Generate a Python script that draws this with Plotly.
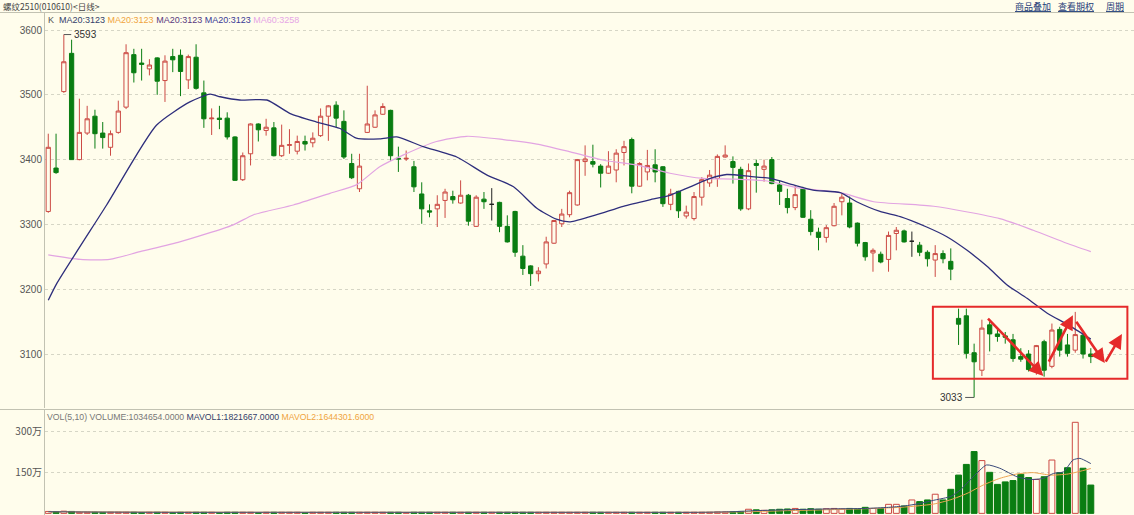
import plotly.graph_objects as go

# ---------------- data ----------------
open_ = [3320, 3387, 3505, 3564, 3400, 3441, 3467, 3441, 3419, 3442,
         3481, 3562, 3549, 3540, 3557, 3522, 3559, 3561, 3523, 3558,
         3503, 3463, 3464, 3464, 3435, 3369, 3409, 3455, 3445, 3449,
         3406, 3422, 3413, 3428, 3426, 3437, 3467, 3484, 3459, 3394,
         3355, 3442, 3450, 3470, 3476, 3402, 3401, 3389, 3347, 3321,
         3324, 3337, 3343, 3333, 3345, 3297, 3339, 3331, 3334, 3297,
         3320, 3251, 3236, 3224, 3239, 3271, 3301, 3315, 3330, 3397,
         3397, 3390, 3379, 3384, 3411, 3431, 3359, 3381, 3392, 3389,
         3331, 3351, 3313, 3309, 3342, 3364, 3371, 3404, 3397, 3385,
         3324, 3394, 3385, 3400, 3361, 3340, 3326, 3355, 3308, 3288,
         3280, 3298, 3335, 3333, 3302, 3272, 3256, 3254, 3246, 3286,
         3290, 3274, 3268, 3257, 3245, 3255, 3243, 3155, 3159, 3102,
         3075, 3145, 3131, 3128, 3122, 3096, 3100, 3075, 3119, 3081,
         3138, 3114, 3106, 3129, 3100]
high = [3440, 3440, 3593, 3585, 3494, 3483, 3477, 3458, 3445, 3491,
        3578, 3571, 3571, 3555, 3558, 3561, 3571, 3570, 3562, 3578,
        3522, 3479, 3483, 3473, 3436, 3411, 3456, 3456, 3463, 3458,
        3454, 3447, 3437, 3437, 3442, 3479, 3484, 3490, 3476, 3409,
        3409, 3514, 3476, 3487, 3477, 3420, 3414, 3398, 3365, 3331,
        3345, 3355, 3352, 3368, 3347, 3345, 3350, 3356, 3335, 3314,
        3321, 3268, 3237, 3234, 3281, 3307, 3324, 3352, 3401, 3422,
        3423, 3393, 3413, 3416, 3429, 3434, 3396, 3415, 3416, 3390,
        3355, 3352, 3329, 3350, 3373, 3384, 3408, 3422, 3405, 3389,
        3394, 3400, 3400, 3404, 3368, 3355, 3360, 3358, 3322, 3295,
        3299, 3333, 3348, 3343, 3303, 3273, 3263, 3258, 3289, 3296,
        3292, 3289, 3273, 3260, 3268, 3260, 3263, 3170, 3170, 3116,
        3153, 3150, 3140, 3134, 3131, 3109, 3106, 3114, 3122, 3147,
        3142, 3131, 3165, 3132, 3109]
low = [3318, 3378, 3503, 3400, 3399, 3438, 3417, 3417, 3406, 3440,
       3478, 3519, 3522, 3530, 3500, 3489, 3535, 3498, 3509, 3508,
       3449, 3438, 3447, 3431, 3367, 3367, 3391, 3428, 3437, 3405,
       3404, 3409, 3408, 3414, 3419, 3435, 3429, 3450, 3401, 3370,
       3350, 3441, 3449, 3469, 3398, 3381, 3398, 3350, 3301, 3311,
       3296, 3310, 3332, 3332, 3298, 3296, 3324, 3306, 3288, 3272,
       3250, 3222, 3205, 3212, 3232, 3270, 3296, 3311, 3329, 3375,
       3388, 3357, 3378, 3365, 3391, 3348, 3358, 3368, 3365, 3327,
       3322, 3310, 3309, 3306, 3329, 3358, 3358, 3403, 3363, 3321,
       3322, 3349, 3366, 3362, 3330, 3317, 3322, 3310, 3283, 3260,
       3272, 3297, 3314, 3294, 3266, 3244, 3227, 3240, 3227, 3260,
       3272, 3250, 3251, 3235, 3219, 3240, 3214, 3114, 3093, 3033,
       3066, 3104, 3119, 3116, 3088, 3088, 3073, 3068, 3065, 3078,
       3096, 3096, 3102, 3093, 3086]
close = [3419, 3380, 3551, 3400, 3442, 3463, 3440, 3434, 3440, 3475,
         3565, 3534, 3547, 3546, 3521, 3552, 3554, 3536, 3559, 3510,
         3463, 3464, 3462, 3435, 3368, 3406, 3455, 3446, 3450, 3406,
         3422, 3423, 3428, 3424, 3433, 3467, 3483, 3464, 3404, 3372,
         3390, 3455, 3469, 3482, 3406, 3401, 3402, 3358, 3324, 3319,
         3331, 3350, 3338, 3345, 3305, 3342, 3335, 3331, 3297, 3273,
         3257, 3232, 3224, 3228, 3273, 3306, 3316, 3349, 3400, 3401,
         3393, 3379, 3390, 3410, 3420, 3359, 3394, 3391, 3381, 3332,
         3347, 3321, 3319, 3343, 3369, 3376, 3405, 3407, 3388, 3324,
         3383, 3391, 3390, 3363, 3351, 3326, 3346, 3311, 3289, 3280,
         3295, 3328, 3342, 3296, 3271, 3250, 3260, 3242, 3283, 3291,
         3273, 3274, 3257, 3247, 3255, 3247, 3231, 3146, 3101, 3088,
         3140, 3131, 3127, 3126, 3093, 3092, 3076, 3113, 3075, 3137,
         3106, 3101, 3130, 3100, 3096]
black_doji = [57, 111]

# volume in 万 (10k lots)
volume = [7, 6, 8, 7, 4, 4, 4, 3, 4, 4,
          4, 4, 3, 4, 4, 4, 3, 4, 4, 4,
          4, 4, 3, 4, 4, 4, 4, 3, 4, 4,
          4, 4, 4, 3, 4, 4, 4, 4, 4, 4,
          4, 4, 4, 4, 4, 4, 3, 4, 4, 4,
          4, 4, 4, 4, 4, 4, 4, 4, 4, 4,
          4, 4, 4, 4, 4, 4, 4, 4, 4, 4,
          4, 4, 4, 4, 4, 4, 4, 4, 4, 4,
          4, 4, 4, 4, 4, 4, 5, 5, 6, 7,
          15, 13, 11, 13, 15, 16, 18, 15, 17, 15,
          17, 18, 16, 18, 16, 22, 18, 18, 33, 33,
          27, 49, 43, 49, 70, 49, 88, 140, 179, 226,
          193, 150, 106, 115, 120, 143, 131, 124, 134, 195,
          149, 167, 333, 165, 103.5]

ma20_x = [0, 1.1, 7.5, 13.9, 18.2, 20.8, 22.1, 24.6, 28.1, 31.1, 34.5, 37.5,
          39.6, 42.6, 44.8, 48.2, 52.5, 56.4, 59.8, 62.8, 65.3, 67.1, 70.5,
          73.9, 77.3, 79.9, 82.5, 85.1, 87.2, 90.2, 92.8, 95.8, 98.3, 101.8,
          103.9, 106.9, 109.5, 112.9, 115.5, 118.1, 120.7, 123.2, 125.8,
          128.4, 131.1, 134]
ma20_y = [3183, 3209, 3330, 3453, 3489, 3501, 3497, 3492, 3492, 3471, 3458, 3448,
          3433, 3432, 3435, 3420, 3404, 3376, 3358, 3325, 3308, 3304, 3315,
          3328, 3338, 3345, 3358, 3371, 3377, 3374, 3371, 3361, 3353, 3349,
          3335, 3320, 3312, 3296, 3281, 3260, 3235, 3207, 3186,
          3163, 3145, 3123]

ma60_x = [0, 4.1, 7.9, 11.8, 16.9, 23.7, 26.4, 31.5, 36.2, 39.6, 42.6, 45.6,
          49.9, 53.8, 58.5, 62.8, 67.1, 71.4, 75.6, 79.9, 84.2, 88.1, 92.4,
          96.6, 101.8, 106.1, 113.8, 122.3, 126.6, 130.9, 134]
ma60_y = [3253, 3246, 3246, 3258, 3273, 3299, 3315, 3330, 3348, 3361, 3389, 3407,
          3428, 3436, 3431, 3424, 3412, 3399, 3392, 3379, 3371, 3370, 3367,
          3356, 3349, 3335, 3328, 3309, 3291, 3271, 3258]

mavol1_x = [0, 5, 15, 30, 50, 70, 84, 88, 91, 95, 100, 105, 108, 110, 112, 114,
            116, 117.2, 118.9, 120.6, 122.3, 124.5, 126.2, 127.9, 129.2, 130.5,
            131.7, 132.6, 134]
mavol1_y = [6, 5, 4, 4, 4, 4, 4, 6, 10, 13, 16, 18, 22, 27, 36, 49,
            62, 85, 134, 177, 165, 134, 124, 128, 146, 152,
            195, 201, 182]
mavol2_x = [0, 10, 30, 60, 84, 90, 95, 100, 105, 109.5, 112, 113.8, 116, 118.1,
            120.2, 122.3, 124.5, 126.6, 128.8, 131.1, 134]
mavol2_y = [6, 5, 4, 4, 4, 6, 10, 13, 17, 22, 28, 34, 50, 73,
            104, 128, 144, 149, 140, 144, 164]

price_ticks = [3100, 3200, 3300, 3400, 3500, 3600]
vol_ticks = [150, 300]
vol_ticktext = ["150万", "300万"]

high_label_idx, high_label = 2, 3593
low_label_idx, low_label = 119, 3033

# annotation overlay (drawn on chart by user)
box_x = [113.7, 138.7]
box_y = [3062, 3173]
arrows = [  # (tail_x, tail_y, head_x, head_y)
    (120.6, 3157, 127.9, 3066),
    (128.5, 3086, 131.7, 3160),
    (132.0, 3152, 135.8, 3086),
    (135.8, 3086, 138.0, 3131),
]

# ---------------- styles ----------------
W, H = 1134, 515
ML = 45
BG = "#fffdec"
UP = "#cc4a44"
DOWN = "#0a7d12"
MA20C = "#2e2e7c"
MA60C = "#e2a4e2"
GRID = "#d6d6c6"
AXC = "#c2c2b2"
TXT = "#555555"
FONT = "Liberation Sans, Arial, sans-serif"
CJK = "Noto Sans CJK SC, sans-serif"


def px_x(px):
    return (px - ML) / (W - ML)


def px_y(py):
    return (H - py) / H


fig = go.Figure()

main_idx = [i for i in range(len(close)) if i not in black_doji]
fig.add_trace(go.Candlestick(
    x=main_idx,
    open=[open_[i] for i in main_idx], high=[high[i] for i in main_idx],
    low=[low[i] for i in main_idx], close=[close[i] for i in main_idx],
    increasing=dict(line=dict(color=UP, width=1), fillcolor=BG),
    decreasing=dict(line=dict(color=DOWN, width=1), fillcolor=DOWN),
    whiskerwidth=0, xaxis="x", yaxis="y", showlegend=False, hoverinfo="skip"))
fig.add_trace(go.Candlestick(
    x=black_doji,
    open=[open_[i] for i in black_doji], high=[high[i] for i in black_doji],
    low=[low[i] for i in black_doji], close=[close[i] for i in black_doji],
    increasing=dict(line=dict(color="#222222", width=1), fillcolor="#222222"),
    decreasing=dict(line=dict(color="#222222", width=1), fillcolor="#222222"),
    whiskerwidth=0, xaxis="x", yaxis="y", showlegend=False, hoverinfo="skip"))

fig.add_trace(go.Scatter(x=ma60_x, y=ma60_y, mode="lines",
                         line=dict(color=MA60C, width=1.2, shape="spline", smoothing=0.6),
                         xaxis="x", yaxis="y", showlegend=False, hoverinfo="skip"))
fig.add_trace(go.Scatter(x=ma20_x, y=ma20_y, mode="lines",
                         line=dict(color=MA20C, width=1.3, shape="spline", smoothing=0.6),
                         xaxis="x", yaxis="y", showlegend=False, hoverinfo="skip"))

# volume
is_up = [close[i] >= open_[i] for i in range(len(close))]
fig.add_trace(go.Bar(
    x=list(range(len(volume))), y=volume,
    marker=dict(color=[BG if u else DOWN for u in is_up],
                line=dict(color=[UP if u else DOWN for u in is_up], width=1)),
    xaxis="x2", yaxis="y2", showlegend=False, hoverinfo="skip"))
fig.add_trace(go.Scatter(x=mavol2_x, y=mavol2_y, mode="lines",
                         line=dict(color="#eea552", width=1, shape="spline", smoothing=0.6),
                         xaxis="x2", yaxis="y2", showlegend=False, hoverinfo="skip"))
fig.add_trace(go.Scatter(x=mavol1_x, y=mavol1_y, mode="lines",
                         line=dict(color="#3a4a7a", width=1, shape="spline", smoothing=0.6),
                         xaxis="x2", yaxis="y2", showlegend=False, hoverinfo="skip"))

xr = [-0.42, 139.55]
price_dom = [px_y(408), px_y(12)]
vol_dom = [0, px_y(410)]

shapes = []
annotations = []

# header separator lines
for py in (12.5, 409.5):
    shapes.append(dict(type="line", xref="paper", yref="paper", x0=px_x(0), x1=1,
                       y0=px_y(py), y1=px_y(py), line=dict(color=AXC, width=1)))

# high / low labels with connectors
shapes.append(dict(type="line", xref="x", yref="y", x0=high_label_idx, x1=high_label_idx + 0.95,
                   y0=high_label, y1=high_label, line=dict(color="#555", width=1)))
annotations.append(dict(x=high_label_idx + 1.0, y=high_label, xref="x", yref="y",
                        text=str(high_label), showarrow=False, xanchor="left", yanchor="middle",
                        font=dict(family=FONT, size=10, color="#333")))
shapes.append(dict(type="line", xref="x", yref="y", x0=low_label_idx - 1.15, x1=low_label_idx,
                   y0=low_label, y1=low_label, line=dict(color="#555", width=1)))
annotations.append(dict(x=low_label_idx - 1.2, y=low_label, xref="x", yref="y",
                        text=str(low_label), showarrow=False, xanchor="right", yanchor="middle",
                        font=dict(family=FONT, size=10, color="#333")))

# red annotation box & arrows
shapes.append(dict(type="rect", xref="x", yref="y", x0=box_x[0], x1=box_x[1],
                   y0=box_y[0], y1=box_y[1], line=dict(color="#e52a2a", width=2)))
for tx, ty, hx, hy in arrows:
    annotations.append(dict(x=hx, y=hy, ax=tx, ay=ty, xref="x", yref="y", axref="x", ayref="y",
                            text="", showarrow=True, arrowhead=2, arrowsize=1.1,
                            arrowwidth=2.6, arrowcolor="#e52a2a"))

# header texts
annotations.append(dict(x=px_x(1), y=px_y(6), xref="paper", yref="paper",
                        text="螺纹2510(010610)<日线>", showarrow=False, xanchor="left",
                        yanchor="middle", font=dict(family=CJK, size=8.5, color="#444")))
for label, px in (("商品叠加", 1013), ("查看期权", 1056), ("周期", 1104)):
    annotations.append(dict(x=px_x(px), y=px_y(6.5), xref="paper", yref="paper",
                            text=f"<span style='text-decoration:underline'>{label}</span>",
                            showarrow=False, xanchor="left", yanchor="middle",
                            font=dict(family=CJK, size=9, color="#1e3c78")))

legend_txt = ("<span style='color:#555'>K</span>  "
              "<span style='color:#34406a'>MA20:3123</span> "
              "<span style='color:#f0a440'>MA20:3123</span> "
              "<span style='color:#5a3a7e'>MA20:3123</span> "
              "<span style='color:#3a3a96'>MA20:3123</span> "
              "<span style='color:#e6a6e6'>MA60:3258</span>")
annotations.append(dict(x=px_x(46), y=px_y(20), xref="paper", yref="paper", text=legend_txt,
                        showarrow=False, xanchor="left", yanchor="middle",
                        font=dict(family=FONT, size=9)))
vol_txt = ("<span style='color:#777'>VOL(5,10) VOLUME:1034654.0000</span> "
           "<span style='color:#34406a'>MAVOL1:1821667.0000</span> "
           "<span style='color:#f0a440'>MAVOL2:1644301.6000</span>")
annotations.append(dict(x=px_x(45), y=px_y(417), xref="paper", yref="paper", text=vol_txt,
                        showarrow=False, xanchor="left", yanchor="middle",
                        font=dict(family=FONT, size=8.7)))

fig.update_layout(
    width=W, height=H,
    margin=dict(l=ML, r=0, t=0, b=0),
    paper_bgcolor=BG, plot_bgcolor=BG,
    boxgap=0.22, bargap=0.24,
    showlegend=False,
    shapes=shapes, annotations=annotations,
    xaxis=dict(domain=[0, 1], range=xr, anchor="y", showticklabels=False, showgrid=False,
               zeroline=False, rangeslider=dict(visible=False), fixedrange=True),
    xaxis2=dict(domain=[0, 1], range=xr, anchor="y2", showticklabels=False, showgrid=False,
                zeroline=False, matches="x"),
    yaxis=dict(domain=price_dom, range=[3016.7, 3627.8], tickvals=price_ticks,
               showgrid=True, gridcolor=GRID, griddash="dot", gridwidth=1,
               showline=True, linecolor=AXC, linewidth=1, zeroline=False,
               ticks="", tickfont=dict(family=FONT, size=10, color=TXT)),
    yaxis2=dict(domain=vol_dom, range=[-6, 378], tickvals=vol_ticks, ticktext=vol_ticktext,
                showgrid=True, gridcolor=GRID, griddash="dot", gridwidth=1,
                showline=True, linecolor=AXC, linewidth=1, zeroline=False,
                ticks="", tickfont=dict(family=CJK, size=10, color=TXT)),
)

fig.write_html("out.html", config={"displayModeBar": False},
               post_script="document.body.style.margin='0';document.body.style.background='%s';" % BG)
